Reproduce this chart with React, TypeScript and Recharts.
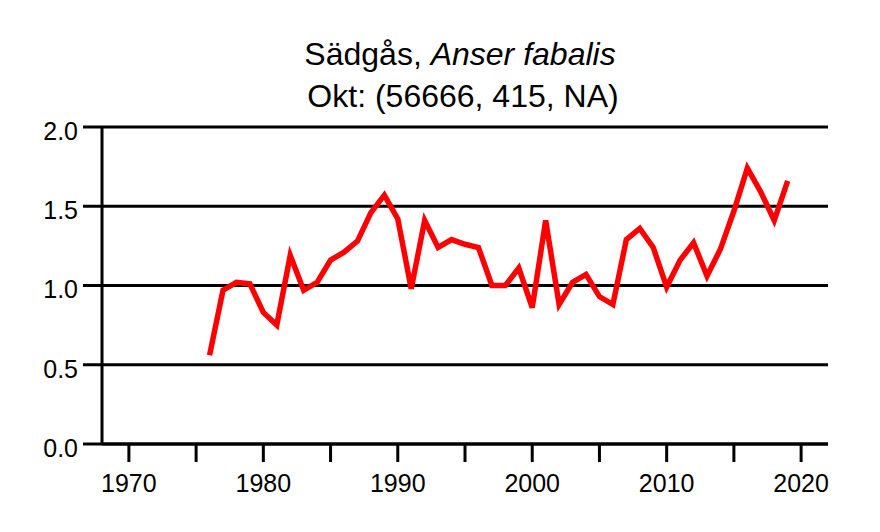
import React from "react";
import { LineChart, Line, XAxis, YAxis, CartesianGrid } from "recharts";

// Index values (Okt)
const years = [
  1976, 1977, 1978, 1979, 1980, 1981, 1982, 1983, 1984, 1985, 1986,
  1987, 1988, 1989, 1990, 1991, 1992, 1993, 1994, 1995, 1996, 1997,
  1998, 1999, 2000, 2001, 2002, 2003, 2004, 2005, 2006, 2007, 2008,
  2009, 2010, 2011, 2012, 2013, 2014, 2015, 2016, 2017, 2018, 2019,
];
const index = [
  0.56, 0.97, 1.02, 1.01, 0.83, 0.75, 1.19, 0.97, 1.02, 1.16, 1.21,
  1.28, 1.46, 1.57, 1.42, 0.98, 1.41, 1.24, 1.29, 1.26, 1.24, 1.0,
  1.0, 1.11, 0.86, 1.41, 0.88, 1.02, 1.07, 0.93, 0.88, 1.29, 1.36,
  1.24, 0.99, 1.16, 1.27, 1.06, 1.23, 1.47, 1.74, 1.59, 1.41, 1.66,
];

const xTicks = [1970, 1975, 1980, 1985, 1990, 1995, 2000, 2005, 2010, 2015, 2020];
const xLabels = [1970, 1980, 1990, 2000, 2010, 2020];
const yTicks = [0, 0.5, 1, 1.5, 2];

const titleMain = "Sädgås, ";
const titleLatin = "Anser fabalis";
const subtitle = "Okt: (56666, 415, NA)";

const chartData = years.map((y, i) => ({ year: y, value: index[i] }));

const font = "'Liberation Sans', Arial, sans-serif";

export default function App() {
  return (
    <div style={{ position: "absolute", left: 0, top: 0, width: 880, height: 532, background: "#fff", fontFamily: font }}>
      <LineChart
        width={880}
        height={532}
        data={chartData}
        margin={{ top: 127, right: 52, left: 0, bottom: 0 }}
      >
        <CartesianGrid horizontal vertical={false} stroke="#000" strokeWidth={3} strokeOpacity={1} />
        <XAxis
          dataKey="year"
          type="number"
          domain={[1968, 2022]}
          ticks={xTicks}
          interval={0}
          allowDataOverflow
          height={88}
          axisLine={{ stroke: "#000", strokeWidth: 3 }}
          tickLine={{ stroke: "#000", strokeWidth: 3 }}
          tickSize={18}
          tickMargin={12}
          tick={{ fill: "#000", fontSize: 25, fontFamily: font }}
          tickFormatter={(v: number) => (xLabels.includes(v) ? String(v) : "")}
        />
        <YAxis
          type="number"
          domain={[0, 2]}
          ticks={yTicks}
          interval={0}
          width={102}
          axisLine={{ stroke: "#000", strokeWidth: 3 }}
          tickLine={{ stroke: "#000", strokeWidth: 3 }}
          tickSize={19}
          tickMargin={5}
          tick={{ fill: "#000", fontSize: 25, fontFamily: font, dy: 4 }}
          tickFormatter={(v: number) => v.toFixed(1)}
        />
        <Line
          type="linear"
          dataKey="value"
          stroke="#ff0000"
          strokeWidth={5.5}
          dot={false}
          isAnimationActive={false}
        />
      </LineChart>
      <svg width={880} height={120} style={{ position: "absolute", left: 0, top: 0 }}>
        <text x={460} y={65} textAnchor="middle" fontSize={32} fontFamily={font} fill="#000">
          {titleMain}
          <tspan fontStyle="italic">{titleLatin}</tspan>
        </text>
        <text x={463} y={107} textAnchor="middle" fontSize={32} fontFamily={font} fill="#000">
          {subtitle}
        </text>
      </svg>
    </div>
  );
}
